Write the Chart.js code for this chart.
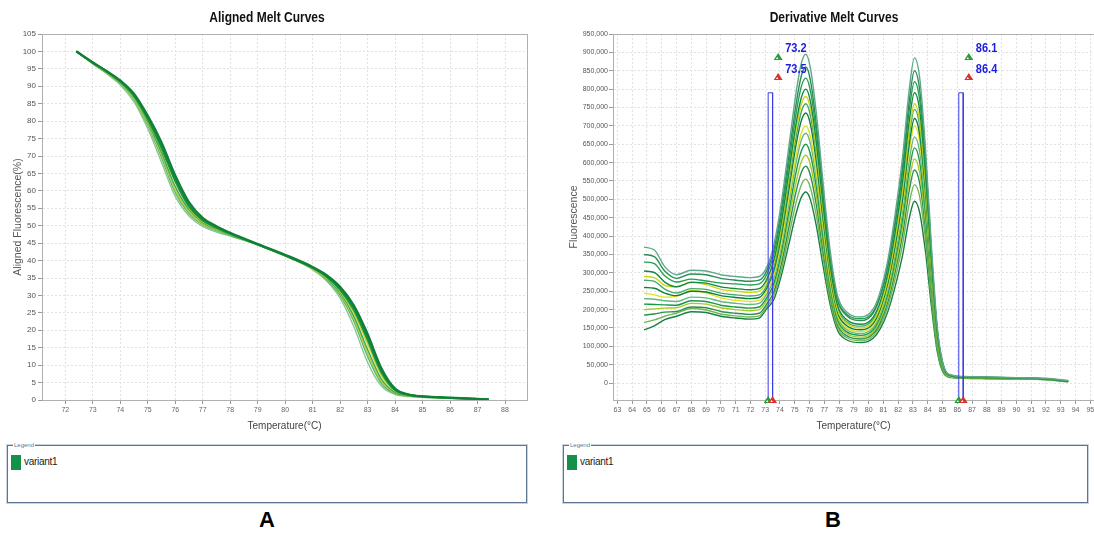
<!DOCTYPE html>
<html>
<head>
<meta charset="utf-8">
<script src="https://cdn.jsdelivr.net/npm/chart.js@4.4.1/dist/chart.umd.min.js"></script>
<style>
  body { margin: 0; width: 1094px; height: 535px; overflow: hidden; background: #fff; position: relative;
         font-family: 'Liberation Sans', Arial, sans-serif; }
  canvas { position: absolute; top: 0; }
  #chartA { left: 0; }
  #chartB { left: 560px; }
  .legendBox { position: absolute; top: 445px; height: 58px; border: 1px solid #5d7592; box-shadow: 0 0 0 1px #c9d3df; box-sizing: border-box; }
  .legendBox .cap { position: absolute; left: 5px; top: -5px; font-size: 6px; color: #5d7592; background: #fff; padding: 0 1px; line-height: 8px; }
  .legendBox .sw { position: absolute; left: 3px; top: 9px; width: 10px; height: 15px; background: #159048; }
  .legendBox .lab { position: absolute; left: 16px; top: 10px; font-size: 10px; color: #222; letter-spacing: -0.3px; }
  .panel { position: absolute; top: 507px; font: bold 22px 'Liberation Sans', Arial, sans-serif; color: #000; width: 40px; text-align: center; }
</style>
</head>
<body>
<canvas id="chartA" width="534" height="436"></canvas>
<canvas id="chartB" width="548" height="436"></canvas>

<div class="legendBox" style="left:7px;width:520px;"><span class="cap">Legend</span><span class="sw"></span><span class="lab">variant1</span></div>
<div class="legendBox" style="left:563px;width:525px;"><span class="cap">Legend</span><span class="sw"></span><span class="lab">variant1</span></div>
<div class="panel" style="left:247px;">A</div>
<div class="panel" style="left:813px;">B</div>

<script>
// ---------- A: aligned melt curves (% fluorescence) ----------
const A_TEMPS = [72.4, 73, 73.5, 74, 74.5, 75, 75.5, 76, 76.5, 77, 77.5, 78, 79, 80, 81, 81.5, 82, 82.5, 83, 83.5, 84, 84.5, 85, 86, 87, 87.4];
const A_XTICKS = [72, 73, 74, 75, 76, 77, 78, 79, 80, 81, 82, 83, 84, 85, 86, 87, 88];

const aligned1 = [100, 96.4, 93.6, 90.4, 85.5, 77.8, 68.2, 58.4, 52.8, 49.8, 48.2, 47, 44.5, 41.4, 37.4, 34.2, 29.2, 21, 10.8, 4, 1.6, 1, 0.8, 0.5, 0.3, 0.2];
const aligned2 = [100, 96.5, 93.8, 90.8, 86.2, 78.8, 69.5, 59.5, 53.5, 50.3, 48.6, 47.2, 44.6, 41.5, 37.6, 34.6, 30, 22.5, 12.5, 4.8, 1.8, 1.1, 0.8, 0.5, 0.3, 0.2];
const aligned3 = [100, 96.6, 93.9, 90.9, 86.5, 79.3, 70.3, 60.2, 54, 50.5, 48.8, 47.4, 44.6, 41.5, 37.7, 34.8, 30.5, 23.4, 13.5, 5.4, 2, 1.2, 0.9, 0.5, 0.3, 0.2];
const aligned4 = [100, 96.6, 94, 91, 86.8, 79.8, 71, 61.2, 54.6, 50.9, 49, 47.5, 44.6, 41.5, 37.8, 34.9, 30.8, 24, 14.5, 6, 2.2, 1.2, 0.9, 0.6, 0.3, 0.2];
const aligned5 = [100, 96.6, 94, 91.2, 87, 80.2, 72, 62.5, 55.2, 51.2, 49.2, 47.6, 44.5, 41.3, 37.7, 35.1, 31.2, 25, 16, 7, 2.5, 1.3, 0.9, 0.6, 0.3, 0.2];
const aligned6 = [100, 96.7, 94.2, 91.3, 87.2, 80.5, 72.3, 62.8, 55.5, 51.5, 49.4, 47.7, 44.6, 41.4, 37.9, 35.4, 31.6, 25.8, 17.2, 7.9, 2.8, 1.4, 1, 0.6, 0.3, 0.2];
const aligned7 = [100, 96.8, 94.3, 91.5, 87.5, 81, 73, 63.5, 56, 51.8, 49.6, 47.8, 44.6, 41.5, 38, 35.6, 32, 26.5, 18, 8.5, 3, 1.5, 1, 0.6, 0.3, 0.2];
const aligned8 = [100, 96.9, 94.4, 91.7, 87.9, 81.6, 74, 64.5, 56.8, 52.3, 49.9, 48, 44.8, 41.7, 38.2, 35.9, 32.5, 27.2, 19, 9.2, 3.3, 1.6, 1.1, 0.7, 0.35, 0.2];
const A_COLORS = ['#86c990', '#5cb370', '#b5cf3a', '#3da85a', '#d2d41c', '#1f9a4a', '#138a3c', '#0f7f38'];

// ---------- B: derivative melt curves (values in thousands) ----------
const B_TEMPS = [64.8, 65.5, 66.2, 67, 68, 69, 70, 71, 72, 72.6, 73.1, 73.6, 74.1, 74.6, 75.1, 75.45, 75.75, 76.05, 76.45, 76.9, 77.4, 77.9, 78.5, 79.5, 80.3, 80.8, 81.3, 81.8, 82.3, 82.75, 83.1, 83.45, 83.85, 84.25, 84.65, 85.1, 85.6, 86.5, 88, 90, 92, 93.5];
const B_XTICKS = [63, 64, 65, 66, 67, 68, 69, 70, 71, 72, 73, 74, 75, 76, 77, 78, 79, 80, 81, 82, 83, 84, 85, 86, 87, 88, 89, 90, 91, 92, 93, 94, 95];
const B_YTICKS = [0, 50000, 100000, 150000, 200000, 250000, 300000, 350000, 400000, 450000, 500000, 550000, 600000, 650000, 700000, 750000, 800000, 850000, 900000, 950000];

const deriv1 = [370, 362, 317, 295, 307, 305, 295, 290, 287, 290, 315, 379, 493, 643, 793, 871, 895, 859, 738, 552, 359, 237, 194, 180, 201, 251, 335, 462, 617, 800, 885, 832, 637, 372, 150, 44, 22, 18, 17, 15, 13, 7];
const deriv2 = [350, 344, 305, 285, 297, 295, 285, 280, 277, 280, 305, 366, 475, 619, 762, 837, 860, 826, 708, 529, 343, 225, 184, 170, 190, 238, 320, 442, 592, 768, 850, 799, 612, 357, 145, 42, 21, 17, 16, 15, 12, 6];
const deriv3 = [330, 325, 292, 275, 283, 278, 272, 270, 267, 270, 295, 353, 458, 597, 736, 808, 830, 797, 686, 516, 339, 227, 188, 175, 194, 240, 317, 433, 575, 743, 820, 771, 590, 344, 139, 41, 21, 17, 16, 14, 12, 6];
const deriv4 = [305, 301, 275, 262, 274, 272, 262, 257, 254, 257, 282, 337, 440, 574, 709, 778, 800, 768, 659, 493, 320, 211, 173, 160, 179, 223, 299, 412, 551, 714, 790, 743, 569, 332, 134, 40, 20, 16, 15, 14, 11, 5];
const deriv5 = [290, 287, 266, 262, 275, 268, 255, 250, 247, 250, 275, 329, 428, 560, 691, 759, 780, 749, 641, 478, 308, 200, 163, 150, 168, 211, 284, 394, 528, 687, 760, 714, 547, 319, 129, 38, 20, 16, 15, 13, 12, 6];
const deriv6 = [280, 277, 256, 245, 257, 255, 245, 240, 237, 240, 265, 317, 415, 544, 672, 739, 760, 730, 627, 470, 306, 203, 167, 155, 173, 214, 285, 391, 521, 674, 745, 700, 536, 313, 127, 37, 19, 16, 15, 14, 11, 5];
const deriv7 = [260, 258, 245, 238, 250, 248, 238, 233, 230, 233, 258, 308, 402, 526, 651, 715, 735, 706, 605, 452, 293, 192, 157, 145, 162, 203, 272, 375, 502, 651, 720, 677, 518, 302, 122, 36, 19, 15, 14, 13, 11, 5];
const deriv8 = [245, 240, 234, 236, 252, 246, 232, 225, 222, 225, 250, 296, 385, 503, 620, 681, 700, 672, 577, 431, 280, 185, 151, 140, 157, 196, 263, 364, 487, 633, 700, 658, 504, 294, 119, 35, 18, 15, 14, 13, 10, 5];
const deriv9 = [230, 228, 224, 222, 234, 232, 222, 217, 214, 217, 242, 286, 373, 488, 602, 662, 680, 653, 560, 418, 271, 179, 146, 135, 151, 189, 253, 349, 467, 606, 670, 630, 482, 281, 114, 34, 18, 15, 14, 12, 10, 5];
const deriv10 = [215, 214, 213, 212, 224, 222, 212, 207, 204, 207, 232, 273, 357, 466, 576, 632, 650, 624, 536, 400, 260, 172, 140, 130, 145, 181, 242, 334, 446, 579, 640, 602, 461, 269, 109, 32, 18, 15, 14, 13, 11, 5];
const deriv11 = [200, 202, 204, 205, 217, 215, 205, 200, 197, 200, 225, 263, 342, 446, 549, 603, 620, 595, 511, 382, 249, 165, 135, 125, 140, 174, 232, 319, 426, 552, 610, 573, 439, 256, 104, 31, 17, 14, 13, 12, 10, 4];
const deriv12 = [185, 188, 193, 195, 207, 205, 195, 190, 187, 190, 215, 250, 325, 424, 523, 574, 590, 567, 487, 364, 238, 158, 129, 120, 134, 166, 221, 304, 405, 525, 580, 545, 418, 244, 99, 29, 17, 14, 13, 12, 10, 4];
const deriv13 = [165, 172, 182, 190, 203, 199, 188, 183, 180, 183, 208, 239, 309, 401, 493, 540, 555, 533, 458, 344, 225, 150, 124, 115, 128, 158, 209, 285, 379, 489, 540, 508, 389, 227, 92, 27, 16, 14, 13, 12, 10, 4];
const deriv14 = [145, 156, 173, 182, 194, 192, 182, 177, 174, 177, 202, 229, 294, 378, 463, 506, 520, 500, 430, 323, 213, 143, 118, 110, 122, 149, 195, 264, 349, 449, 495, 465, 356, 208, 84, 25, 15, 13, 12, 11, 9, 4];
const B_COLORS = ['#5fa98a', '#2e8b57', '#23a050', '#138a3c', '#cdd61a', '#46a86a', '#0f7d3a', '#e0e024', '#66b87a', '#1a9a48', '#a9c92a', '#2c8f50', '#72b65a', '#178040'];

// melt-temperature markers: [green, red]
const MELT_PAIRS = [[73.2, 73.5], [86.1, 86.4]];
const MARK_TOP = 790000;
const B_YMIN = -46000;
const B_YMAX = 950000;

Chart.defaults.font.family = "'Liberation Sans', Arial, sans-serif";
Chart.defaults.color = '#555';
Chart.defaults.animation = false;

const frame = {
  id: 'frame',
  beforeDatasetsDraw(chart) {
    const { ctx, chartArea: a } = chart;
    ctx.save();
    ctx.strokeStyle = '#b0b0b0';
    ctx.lineWidth = 1;
    ctx.strokeRect(a.left + 0.5, a.top + 0.5, a.width, a.height);
    ctx.restore();
  }
};

// narrow bold title, like the instrument software's
const narrowTitle = {
  id: 'narrowTitle',
  afterDraw(chart, args, opts) {
    const ctx = chart.ctx;
    ctx.save();
    ctx.font = "bold 15px 'Liberation Sans', Arial, sans-serif";
    ctx.textAlign = 'center';
    ctx.textBaseline = 'middle';
    ctx.fillStyle = '#111';
    ctx.translate(opts.cx, 18);
    ctx.scale(0.8, 1);
    ctx.fillText(opts.text, 0, 0);
    ctx.restore();
  }
};

function tri(ctx, cx, cy, color) {
  ctx.beginPath();
  ctx.moveTo(cx, cy - 4);
  ctx.lineTo(cx + 4.5, cy + 3);
  ctx.lineTo(cx - 4.5, cy + 3);
  ctx.closePath();
  ctx.fillStyle = color;
  ctx.fill();
  ctx.beginPath();
  ctx.moveTo(cx - 1, cy);
  ctx.lineTo(cx + 0.2, cy + 2);
  ctx.lineTo(cx - 2.2, cy + 2);
  ctx.closePath();
  ctx.fillStyle = '#fff';
  ctx.fill();
}

const meltMarks = {
  id: 'meltMarks',
  afterDatasetsDraw(chart) {
    const { ctx, chartArea: a, scales: { x } } = chart;
    ctx.save();
    MELT_PAIRS.forEach(([g, r]) => {
      const gx = x.getPixelForValue(g);
      const rx = x.getPixelForValue(r);
      const ax = gx + 10;
      tri(ctx, ax, a.top + 23, '#22a033');
      tri(ctx, ax, a.top + 43, '#d8322a');
      ctx.font = "bold 13px 'Liberation Sans', Arial, sans-serif";
      ctx.fillStyle = '#1c1ce0';
      ctx.textBaseline = 'middle';
      [[g, a.top + 14], [r, a.top + 35]].forEach(([v, ty]) => {
        ctx.save();
        ctx.translate(ax + 7, ty);
        ctx.scale(0.85, 1);
        ctx.fillText(v.toFixed(1), 0, 0);
        ctx.restore();
      });
      tri(ctx, gx, a.bottom, '#22a033');
      tri(ctx, rx, a.bottom, '#d8322a');
    });
    ctx.restore();
  }
};

function toPoints(xs, ys, k) {
  return ys.map((y, j) => ({ x: xs[j], y: y * k }));
}

function gridOpts() {
  return { color: '#e2e2e2', tickLength: 4, tickColor: '#999' };
}

// Chart A
const alignedSets = [aligned8, aligned7, aligned6, aligned5, aligned4, aligned3, aligned2, aligned1];
const aColors = A_COLORS.slice().reverse();
new Chart(document.getElementById('chartA'), {
  type: 'line',
  data: {
    datasets: alignedSets.map((ys, i) => ({
      data: toPoints(A_TEMPS, ys, 1),
      borderColor: aColors[i],
      borderWidth: i < 3 ? 2 : 1.4,
      pointRadius: 0,
      cubicInterpolationMode: 'monotone',
      fill: false
    }))
  },
  options: {
    responsive: false,
    layout: { padding: { left: 0, right: 7, top: 34, bottom: 0 } },
    plugins: {
      legend: { display: false },
      tooltip: { enabled: false },
      title: { display: false },
      narrowTitle: { text: 'Aligned Melt Curves', cx: 267 }
    },
    scales: {
      x: {
        type: 'linear', min: 71.15, max: 88.8,
        afterBuildTicks: s => { s.ticks = A_XTICKS.map(v => ({ value: v })); },
        afterFit: s => { s.height = 36; },
        ticks: { font: { size: 7 }, color: '#666', padding: 2, maxRotation: 0, autoSkip: false },
        grid: gridOpts(),
        border: { color: '#999', dash: [2, 2] },
        title: { display: true, text: 'Temperature(°C)', color: '#444', font: { size: 10 }, padding: { top: 2, bottom: 4 } }
      },
      y: {
        min: 0, max: 105,
        afterFit: s => { s.width = 42; },
        ticks: { stepSize: 5, font: { size: 8 }, color: '#555', padding: 2 },
        grid: gridOpts(),
        border: { color: '#999', dash: [2, 2] },
        title: { display: true, text: 'Aligned Fluorescence(%)', color: '#555', font: { size: 10.5 }, padding: { top: 12, bottom: 0 } }
      }
    }
  },
  plugins: [frame, narrowTitle]
});

// Chart B
const derivSets = [deriv1, deriv2, deriv3, deriv4, deriv5, deriv6, deriv7, deriv8, deriv9, deriv10, deriv11, deriv12, deriv13, deriv14];
const markSets = MELT_PAIRS.map(([g, r]) => ({
  data: [{ x: g, y: B_YMIN }, { x: g, y: MARK_TOP }, { x: r, y: MARK_TOP }, { x: r, y: B_YMIN }],
  borderColor: '#3c3ce6',
  borderWidth: 1,
  pointRadius: 0,
  tension: 0,
  fill: false
}));
new Chart(document.getElementById('chartB'), {
  type: 'line',
  data: {
    datasets: markSets.concat(derivSets.map((ys, i) => ({
      data: toPoints(B_TEMPS, ys, 1000),
      borderColor: B_COLORS[i],
      borderWidth: 1.4,
      pointRadius: 0,
      cubicInterpolationMode: 'monotone',
      fill: false
    })))
  },
  options: {
    responsive: false,
    layout: { padding: { left: 0, right: 14, top: 34, bottom: 0 } },
    plugins: {
      legend: { display: false },
      tooltip: { enabled: false },
      title: { display: false },
      narrowTitle: { text: 'Derivative Melt Curves', cx: 274 }
    },
    scales: {
      x: {
        type: 'linear', min: 62.7, max: 95.25,
        afterBuildTicks: s => { s.ticks = B_XTICKS.map(v => ({ value: v })); },
        afterFit: s => { s.height = 36; },
        ticks: { font: { size: 7 }, color: '#666', padding: 2, maxRotation: 0, autoSkip: false },
        grid: gridOpts(),
        border: { color: '#999', dash: [2, 2] },
        title: { display: true, text: 'Temperature(°C)', color: '#444', font: { size: 10 }, padding: { top: 2, bottom: 4 } }
      },
      y: {
        min: B_YMIN, max: B_YMAX,
        afterBuildTicks: s => { s.ticks = B_YTICKS.map(v => ({ value: v })); },
        afterFit: s => { s.width = 53; },
        ticks: { font: { size: 7 }, color: '#555', padding: 1,
                 callback: v => v.toLocaleString('en-US') },
        grid: gridOpts(),
        border: { color: '#999', dash: [2, 2] },
        title: { display: true, text: 'Fluorescence', color: '#555', font: { size: 10.5 }, padding: { top: 8, bottom: 0 } }
      }
    }
  },
  plugins: [frame, meltMarks, narrowTitle]
});
</script>
</body>
</html>
